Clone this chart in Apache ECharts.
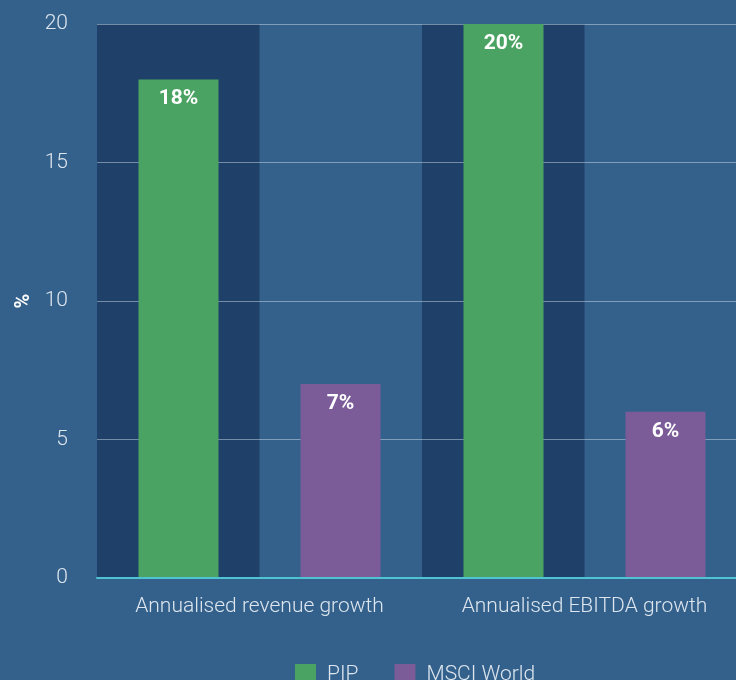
<!DOCTYPE html>
<html>
<head>
<meta charset="utf-8">
<script src="https://cdn.jsdelivr.net/npm/echarts@6/dist/echarts.min.js"></script>
<style>
  html, body { margin: 0; padding: 0; background: #34618b; }
  #main { width: 736px; height: 680px; }
</style>
</head>
<body>
<div id="main"></div>
<script>
// data
const categories = ['Annualised revenue growth', 'Annualised EBITDA growth']
const pip = [18, 20]
const msci = [7, 6]
// dark band behind each PIP bar (4 slots, band in slot 1 and 3)
const bandSlots = ['a', 'b', 'c', 'd']
const band = [20, '-', 20, '-']

const mychart = echarts.init(document.getElementById('main'))

const labelStyle = {
  show: true,
  position: 'insideTop',
  distance: 9,
  color: '#ffffff',
  fontFamily: 'Roboto',
  fontWeight: 'bold',
  fontSize: 21,
  formatter: p => p.value + '%'
}

const option = {
  backgroundColor: '#34618b',
  animation: false,
  textStyle: { fontFamily: 'Roboto' },
  grid: { left: 97, top: 24, width: 650, height: 554, outerBoundsMode: 'none', containLabel: false },
  legend: {
    left: 290,
    top: 659,
    itemWidth: 21,
    itemHeight: 21,
    itemGap: 36,
    icon: 'rect',
    textStyle: { color: '#dde6ef', fontSize: 21, fontWeight: 300, fontFamily: 'Roboto', padding: [0, 0, 0, 6] },
    data: ['PIP', 'MSCI World']
  },
  xAxis: [
    {
      type: 'category',
      data: categories,
      axisLine: { lineStyle: { color: '#4fc3d2', width: 2 } },
      axisTick: { show: false },
      axisLabel: { color: '#dde6ef', fontSize: 21, fontWeight: 300, margin: 18 },
      z: 5
    },
    {
      type: 'category',
      data: bandSlots,
      show: false
    }
  ],
  yAxis: {
    type: 'value',
    min: 0,
    max: 20,
    interval: 5,
    name: '%',
    nameLocation: 'middle',
    nameGap: 63,
    nameRotate: 90,
    nameTextStyle: { color: '#ffffff', fontSize: 20, fontWeight: 'bold' },
    axisLine: { show: false },
    axisTick: { show: false },
    axisLabel: { color: '#dde6ef', fontSize: 21, fontWeight: 300, margin: 29 },
    splitLine: { lineStyle: { color: 'rgba(220,232,245,0.45)', width: 1 } },
    z: 2
  },
  series: [
    {
      name: 'band',
      type: 'bar',
      xAxisIndex: 1,
      data: band,
      barWidth: '100%',
      itemStyle: { color: '#1f4068' },
      silent: true,
      z: 1
    },
    {
      name: 'PIP',
      type: 'bar',
      data: pip,
      barWidth: 80,
      barGap: '102.5%',
      itemStyle: { color: '#4aa362' },
      label: labelStyle,
      z: 3
    },
    {
      name: 'MSCI World',
      type: 'bar',
      data: msci,
      barWidth: 80,
      itemStyle: { color: '#7b5c99' },
      label: labelStyle,
      z: 3
    }
  ]
}

mychart.setOption(option)
</script>
</body>
</html>
